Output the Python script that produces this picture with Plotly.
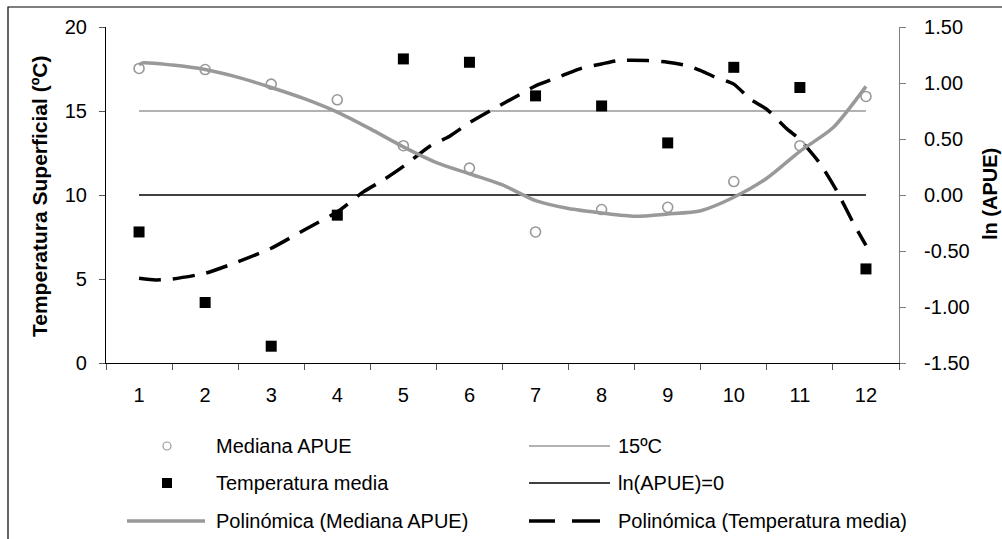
import plotly.graph_objects as go

# --- data -------------------------------------------------------------
months = list(range(1, 13))
month_labels = [str(m) for m in months]

# ln(APUE) medians per month (right axis)
mediana_apue = [1.13, 1.12, 0.99, 0.85, 0.44, 0.24, -0.33, -0.13, -0.11, 0.12, 0.44, 0.88]
# mean surface temperature per month, ºC (left axis)
temperatura_media = [7.8, 3.6, 1.0, 8.8, 18.1, 17.9, 15.9, 15.3, 13.1, 17.6, 16.4, 5.6]

# reference levels
ref_15c = [15] * 12
ref_ln0 = [0] * 12

# polynomial trend of Mediana APUE (ln units)
trend_apue_x = [1.0, 1.05, 1.5, 2.0, 2.5, 3.0, 3.5, 4.0, 4.5, 5.0, 5.5, 6.0, 6.5,
                7.0, 7.5, 8.0, 8.5, 9.0, 9.5, 10.0, 10.5, 11.0, 11.5, 12.0]
trend_apue = [1.16, 1.18, 1.16, 1.12, 1.05, 0.96, 0.86, 0.74, 0.59, 0.43, 0.29, 0.19, 0.09,
              -0.05, -0.12, -0.16, -0.19, -0.17, -0.14, -0.02, 0.15, 0.39, 0.60, 0.97]

# polynomial trend of Temperatura media (ºC)
trend_temp_x = [1.0, 1.25, 1.5, 2.0, 2.5, 3.0, 3.5, 4.0, 4.4, 4.7, 5.0, 5.4, 5.7, 6.0,
                6.4, 6.7, 7.0, 7.4, 7.7, 8.0, 8.25, 8.7, 9.0, 9.3, 9.5, 9.7, 10.0,
                10.25, 10.5, 10.8, 11.0, 11.3, 11.55, 11.8, 12.0]
trend_temp = [5.04, 4.94, 5.0, 5.34, 6.03, 6.83, 7.92, 9.0, 10.2, 10.9, 11.7, 12.9, 13.5, 14.3,
              15.2, 15.85, 16.5, 17.1, 17.55, 17.8, 18.0, 18.0, 17.9, 17.7, 17.4, 17.05, 16.6,
              15.7, 15.1, 13.95, 13.3, 11.9, 10.3, 8.4, 7.0]

left_ticks = [0, 5, 10, 15, 20]
right_ticks = [-1.5, -1.0, -0.5, 0.0, 0.5, 1.0, 1.5]
right_tick_text = ["-1.50", "-1.00", "-0.50", "0.00", "0.50", "1.00", "1.50"]

names = ["Mediana APUE", "15ºC", "Temperatura media", "ln(APUE)=0",
         "Polinómica (Mediana APUE)", "Polinómica (Temperatura media)"]

# --- styling ----------------------------------------------------------
FONT = "Liberation Sans, Arial, sans-serif"
GREY = "#999999"
W, H = 1002, 539
L, R, T, B = 106, 899, 27, 363  # plot area in pixels


def px(x):
    return (x - L) / (R - L)


def py(y):
    return (B - y) / (B - T)


fig = go.Figure()

fig.add_trace(go.Scatter(x=months, y=ref_15c, mode="lines", name=names[1],
                         line=dict(color=GREY, width=1.6), yaxis="y"))
fig.add_trace(go.Scatter(x=months, y=ref_ln0, mode="lines", name=names[3],
                         line=dict(color="black", width=1.6), yaxis="y2"))
fig.add_trace(go.Scatter(x=trend_apue_x, y=trend_apue, mode="lines", name=names[4],
                         line=dict(color=GREY, width=3.5, shape="spline", smoothing=0.7),
                         yaxis="y2"))
fig.add_trace(go.Scatter(x=trend_temp_x, y=trend_temp, mode="lines", name=names[5],
                         line=dict(color="black", width=3.5, dash="22px,12px",
                                   shape="spline", smoothing=0.6),
                         yaxis="y"))
fig.add_trace(go.Scatter(x=months, y=mediana_apue, mode="markers", name=names[0],
                         marker=dict(symbol="circle-open", size=10, color=GREY,
                                     line=dict(width=1.6, color=GREY)),
                         yaxis="y2"))
fig.add_trace(go.Scatter(x=months, y=temperatura_media, mode="markers", name=names[2],
                         marker=dict(symbol="square", size=11, color="black",
                                     line=dict(width=0)),
                         yaxis="y"))

# --- legend drawn below the plot (two columns, three rows) ------------
shapes = []
annotations = []
row_y = [446, 483, 521]
col1_key, col1_text = 167, 214
col2_x0, col2_x1, col2_text = 529, 610, 616

# circle key
shapes.append(dict(type="circle", xref="paper", yref="paper",
                   x0=px(col1_key - 4), x1=px(col1_key + 4),
                   y0=py(row_y[0] + 4), y1=py(row_y[0] - 4),
                   line=dict(color=GREY, width=1.2), fillcolor="white"))
# square key
shapes.append(dict(type="rect", xref="paper", yref="paper",
                   x0=px(col1_key - 5), x1=px(col1_key + 5),
                   y0=py(row_y[1] + 5), y1=py(row_y[1] - 5),
                   line=dict(width=0), fillcolor="black"))
# solid grey trend key
shapes.append(dict(type="line", xref="paper", yref="paper",
                   x0=px(127), x1=px(205), y0=py(row_y[2]), y1=py(row_y[2]),
                   line=dict(color=GREY, width=3.5)))
# 15ºC key
shapes.append(dict(type="line", xref="paper", yref="paper",
                   x0=px(col2_x0), x1=px(col2_x1), y0=py(row_y[0]), y1=py(row_y[0]),
                   line=dict(color=GREY, width=1.6)))
# ln(APUE)=0 key
shapes.append(dict(type="line", xref="paper", yref="paper",
                   x0=px(col2_x0), x1=px(col2_x1), y0=py(row_y[1]), y1=py(row_y[1]),
                   line=dict(color="black", width=1.6)))
# dashed key
for a, b in [(529, 555), (572, 600)]:
    shapes.append(dict(type="line", xref="paper", yref="paper",
                       x0=px(a), x1=px(b), y0=py(row_y[2]), y1=py(row_y[2]),
                       line=dict(color="black", width=3.5)))

legend_items = [(names[0], col1_text, row_y[0]), (names[2], col1_text, row_y[1]),
                (names[4], col1_text, row_y[2]), (names[1], col2_text, row_y[0]),
                (names[3], col2_text, row_y[1]), (names[5], col2_text, row_y[2])]
for txt, x, y in legend_items:
    annotations.append(dict(text=txt, xref="paper", yref="paper", x=px(x), y=py(y),
                            xanchor="left", yanchor="middle", showarrow=False,
                            font=dict(family=FONT, size=20, color="black")))

# axis titles
annotations.append(dict(text="<b>Temperatura Superficial (ºC)</b>", xref="paper",
                        yref="paper", x=px(39), y=py(196), textangle=-90,
                        showarrow=False, xanchor="center", yanchor="middle",
                        font=dict(family=FONT, size=21, color="black")))
annotations.append(dict(text="<b>ln (APUE)</b>", xref="paper", yref="paper",
                        x=px(990), y=py(194), textangle=-90, showarrow=False,
                        xanchor="center", yanchor="middle",
                        font=dict(family=FONT, size=20, color="black")))

# outer frame
shapes.append(dict(type="rect", xref="paper", yref="paper",
                   x0=px(8), x1=px(1030), y0=py(560), y1=py(7),
                   line=dict(color="black", width=1.2), fillcolor="rgba(0,0,0,0)",
                   layer="below"))

fig.update_layout(
    width=W, height=H,
    margin=dict(l=L, r=W - R, t=T, b=H - B, pad=0),
    paper_bgcolor="white", plot_bgcolor="white",
    showlegend=False,
    font=dict(family=FONT, size=20, color="black"),
    shapes=shapes, annotations=annotations,
    xaxis=dict(range=[0.5, 12.5], tickvals=months, ticktext=month_labels,
               ticks="", showgrid=False, zeroline=False,
               showline=True, linecolor="black", linewidth=1.2,
               ticklabelstandoff=14,
               tickfont=dict(family=FONT, size=20),
               minor=dict(tick0=0.5, dtick=1, ticks="outside", ticklen=6,
                          tickcolor="#555555", tickwidth=1, showgrid=False)),
    yaxis=dict(range=[0, 20], tickvals=left_ticks, ticks="outside", ticklen=6,
               tickcolor="#555555", showgrid=False, zeroline=False,
               showline=True, linecolor="black", linewidth=1.2,
               ticklabelstandoff=8, tickfont=dict(family=FONT, size=20)),
    yaxis2=dict(range=[-1.5, 1.5], tickvals=right_ticks, ticktext=right_tick_text,
                overlaying="y", side="right", ticks="outside", ticklen=6,
                tickcolor="#808080", showgrid=False, zeroline=False,
                showline=True, linecolor="#808080", linewidth=1.2,
                ticklabelstandoff=14, tickfont=dict(family=FONT, size=20)),
)

fig.write_html("out.html")
